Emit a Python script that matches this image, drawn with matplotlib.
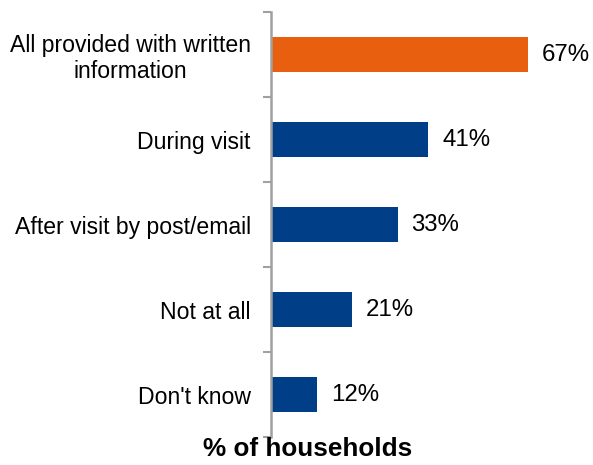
import matplotlib.pyplot as plt

categories = ["All provided with written\ninformation", "During visit",
              "After visit by post/email", "Not at all", "Don't know"]
values = [67, 41, 33, 21, 12]
colors = ["#E8600F", "#003F87", "#003F87", "#003F87", "#003F87"]

plt.rcParams["font.family"] = ["Liberation Sans", "DejaVu Sans"]

fig = plt.figure(figsize=(5.93, 4.65), dpi=100)
ax = fig.add_axes([271 / 593, 28 / 465, 320 / 593, 425 / 465])

pos = list(range(len(categories)))
ax.barh(pos, values, height=0.41, color=colors)
ax.set_ylim(len(categories) - 0.5, -0.5)
ax.set_xlim(0, 83.4)

for p, v in zip(pos, values):
    ax.annotate(f"{v}%", (v, p), xytext=(10, 0), textcoords="offset points",
                va="center", ha="left", fontsize=17.3)

# category labels sit between the boundary ticks
ax.set_yticks(pos)
ax.set_yticklabels(categories, fontsize=16.6, linespacing=1.15,
                   multialignment="center")
ax.tick_params(axis="y", which="major", length=0, pad=14.5)
ax.set_yticks([p - 0.5 for p in pos] + [len(pos) - 0.5], minor=True)
ax.tick_params(axis="y", which="minor", length=6, width=1.5, color="#A0A0A0")

ax.set_xticks([])
for s in ["top", "right", "bottom"]:
    ax.spines[s].set_visible(False)
ax.spines["left"].set_color("#A0A0A0")
ax.spines["left"].set_linewidth(1.8)

fig.text(308 / 593, 1 - 449 / 465, "% of households", ha="center", va="center",
         fontsize=18.8, fontweight="bold")

fig.savefig("out.png", dpi=100)
